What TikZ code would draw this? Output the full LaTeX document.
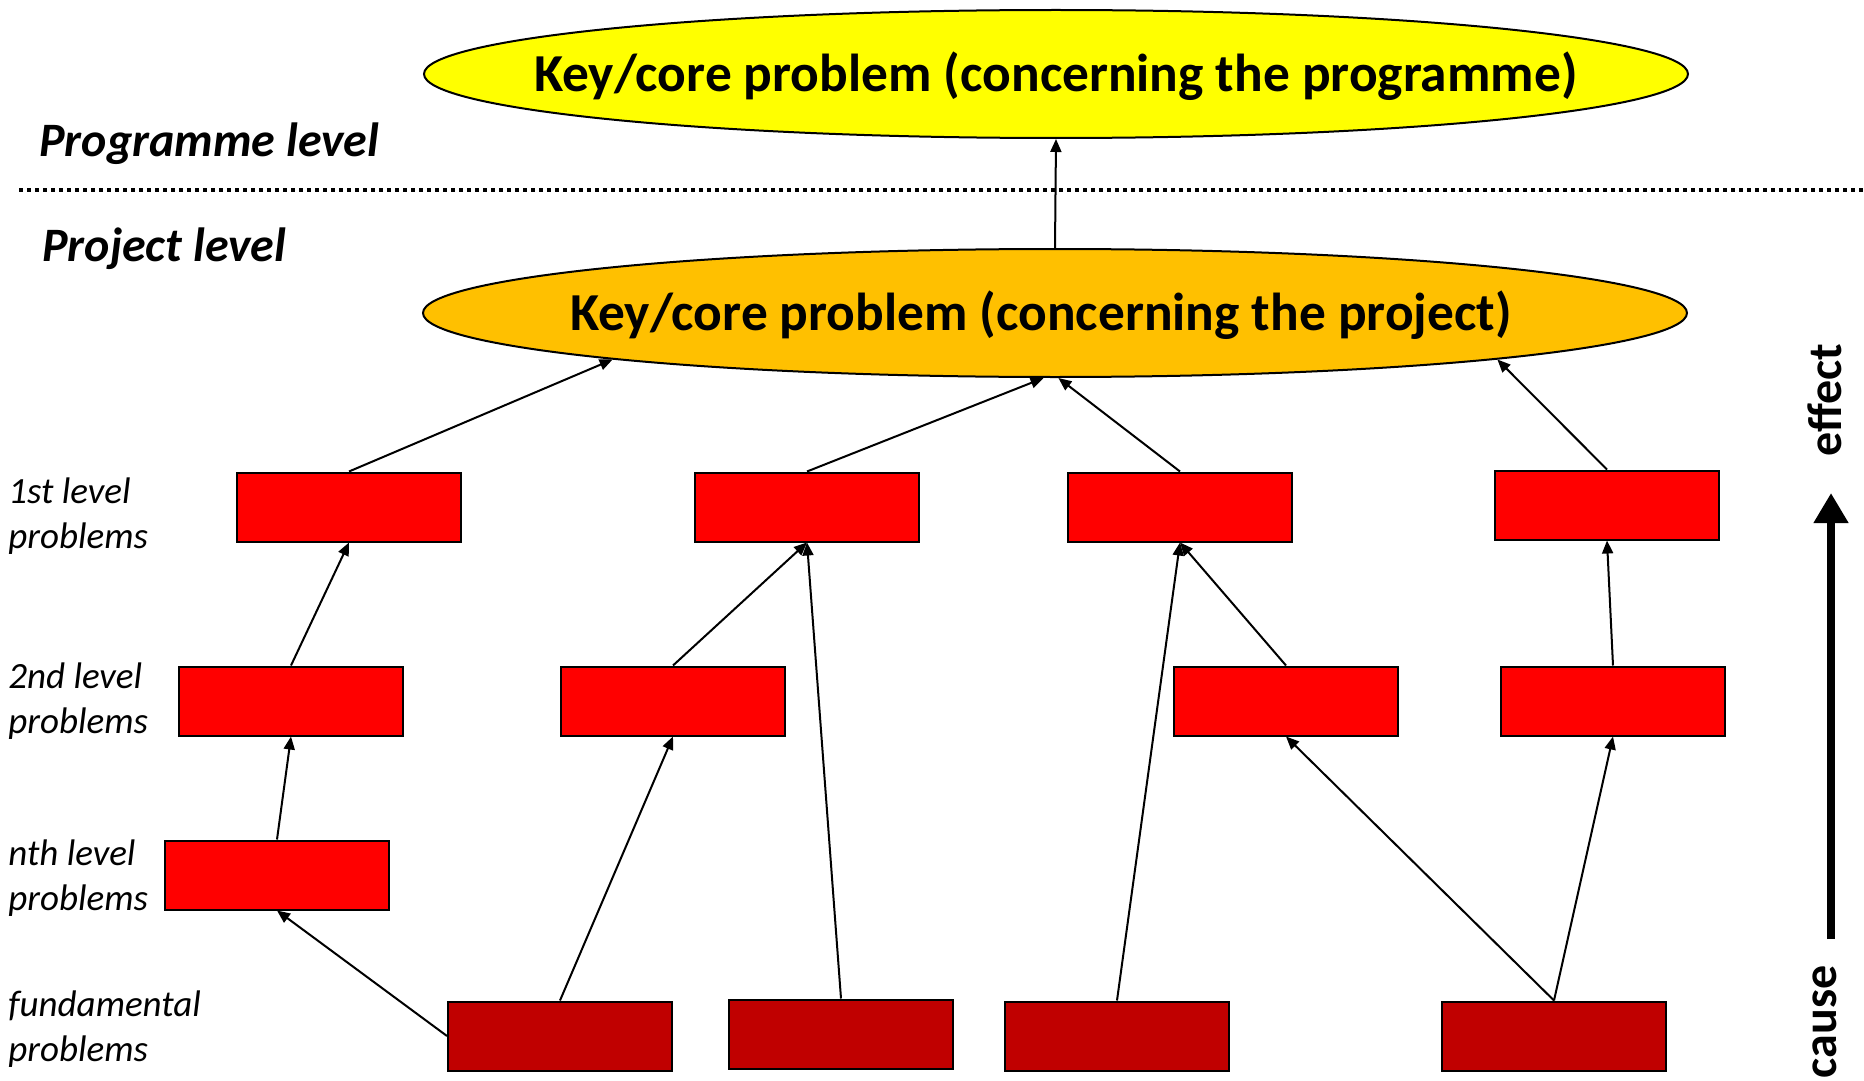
\documentclass[tikz,border=0pt]{standalone}
\usepackage{fontspec}
\setmainfont{Carlito}
\usetikzlibrary{positioning,arrows.meta,shapes.geometric}
\definecolor{keyyellow}{RGB}{255,255,0}
\definecolor{keyorange}{RGB}{255,192,0}
\definecolor{rootred}{RGB}{192,0,0}
\tikzset{
    >={Triangle[length=6.5pt,width=5.5pt]},
    every edge/.style={draw,->,line width=1pt}
}

\begin{document}
\begin{tikzpicture}[x=0.5pt,y=-0.5pt,
                    keyproblem/.style={ellipse,draw,line width=1pt,minimum width=632pt,minimum height=64pt,
                                       inner sep=0pt},
                    keytext/.style={yshift=-1.2pt,font=\fontsize{26.7}{32}\selectfont\bfseries},
                    problem/.style={rectangle,draw,fill=red,line width=1pt,
                                    minimum width=112pt,minimum height=34.5pt,inner sep=0pt},
                    rootcause/.style={problem,fill=rootred},
                    levelname/.style={anchor=base west,inner sep=0pt,font=\fontsize{24}{28}\selectfont\bfseries\itshape},
                    rowlabel/.style={anchor=west,align=left,inner sep=0pt,font=\fontsize{18.5}{22.5}\selectfont\itshape},
                    axislabel/.style={rotate=90,inner sep=0pt,font=\fontsize{24}{28}\selectfont\bfseries}]

\useasboundingbox (0,0) rectangle (1864,1081);

% Key problems
\node[keyproblem,fill=keyyellow,label={[keytext]center:Key/core problem (concerning the programme)}] (prog) at (1056,74) {};
\node[keyproblem,fill=keyorange,label={[keytext,xshift=-7pt]center:Key/core problem (concerning the project)}] (proj) at (1055,313) {};

% Levels
\node[levelname] (proglevel) at (39,156) {Programme level};
\node[levelname] (projlevel) at (42,261) {Project level};
\draw[line width=2pt,dash pattern=on 2pt off 2pt] (19,190) -- (1864,190);

% Row labels
\node[rowlabel] (lab1) at (8,516) {1st level\\problems};
\node[rowlabel] (lab2) at (8,701) {2nd level\\problems};
\node[rowlabel] (labn) at (8,878) {nth level\\problems};
\node[rowlabel] (labf) at (8,1029) {fundamental\\problems};

% 1st level problems
\node[problem] (a1) at (349,507) {};
\node[problem] (a2) at (807,507) {};
\node[problem] (a3) at (1180,507) {};
\node[problem] (a4) at (1607,505) {};

% 2nd level problems
\node[problem] (b1) at (291,701) {};
\node[problem] (b2) at (673,701) {};
\node[problem] (b3) at (1286,701) {};
\node[problem] (b4) at (1613,701) {};

% nth level problems
\node[problem] (c1) at (277,875) {};

% Fundamental problems
\node[rootcause] (d1) at (560,1036) {};
\node[rootcause] (d2) at (841,1034) {};
\node[rootcause] (d3) at (1117,1036) {};
\node[rootcause] (d4) at (1554,1036) {};

% Causes
\path (proj.north) edge (prog.south);
\path (a1.north) edge (proj.186);
\path (a2.north) edge (proj.260);
\path (a3.north) edge (proj.273);
\path (a4.north) edge (proj.354);
\path (b1.north) edge (a1.south);
\path (c1.north) edge (b1.south);
\path (d1.west) edge (c1.south);
\path (d1.north) edge (b2.south);
\path (b2.north) edge (a2.south);
\path (d2.north) edge (a2.south);
\path (d3.north) edge (a3.south);
\path (b3.north) edge (a3.south);
\path (d4.north) edge (b3.south);
\path (d4.north) edge (b4.south);
\path (b4.north) edge (a4.south);

% Cause -> effect axis
\coordinate (axisfrom) at (1831,939);
\coordinate (axisto) at (1831,493);
\draw[line width=4.2pt,-{Triangle[length=15pt,width=16.5pt]}] (axisfrom) -- (axisto);
\node[axislabel] (effect) at (1825,400) {effect};
\node[axislabel] (cause) at (1825,1022) {cause};

\end{tikzpicture}
\end{document}
